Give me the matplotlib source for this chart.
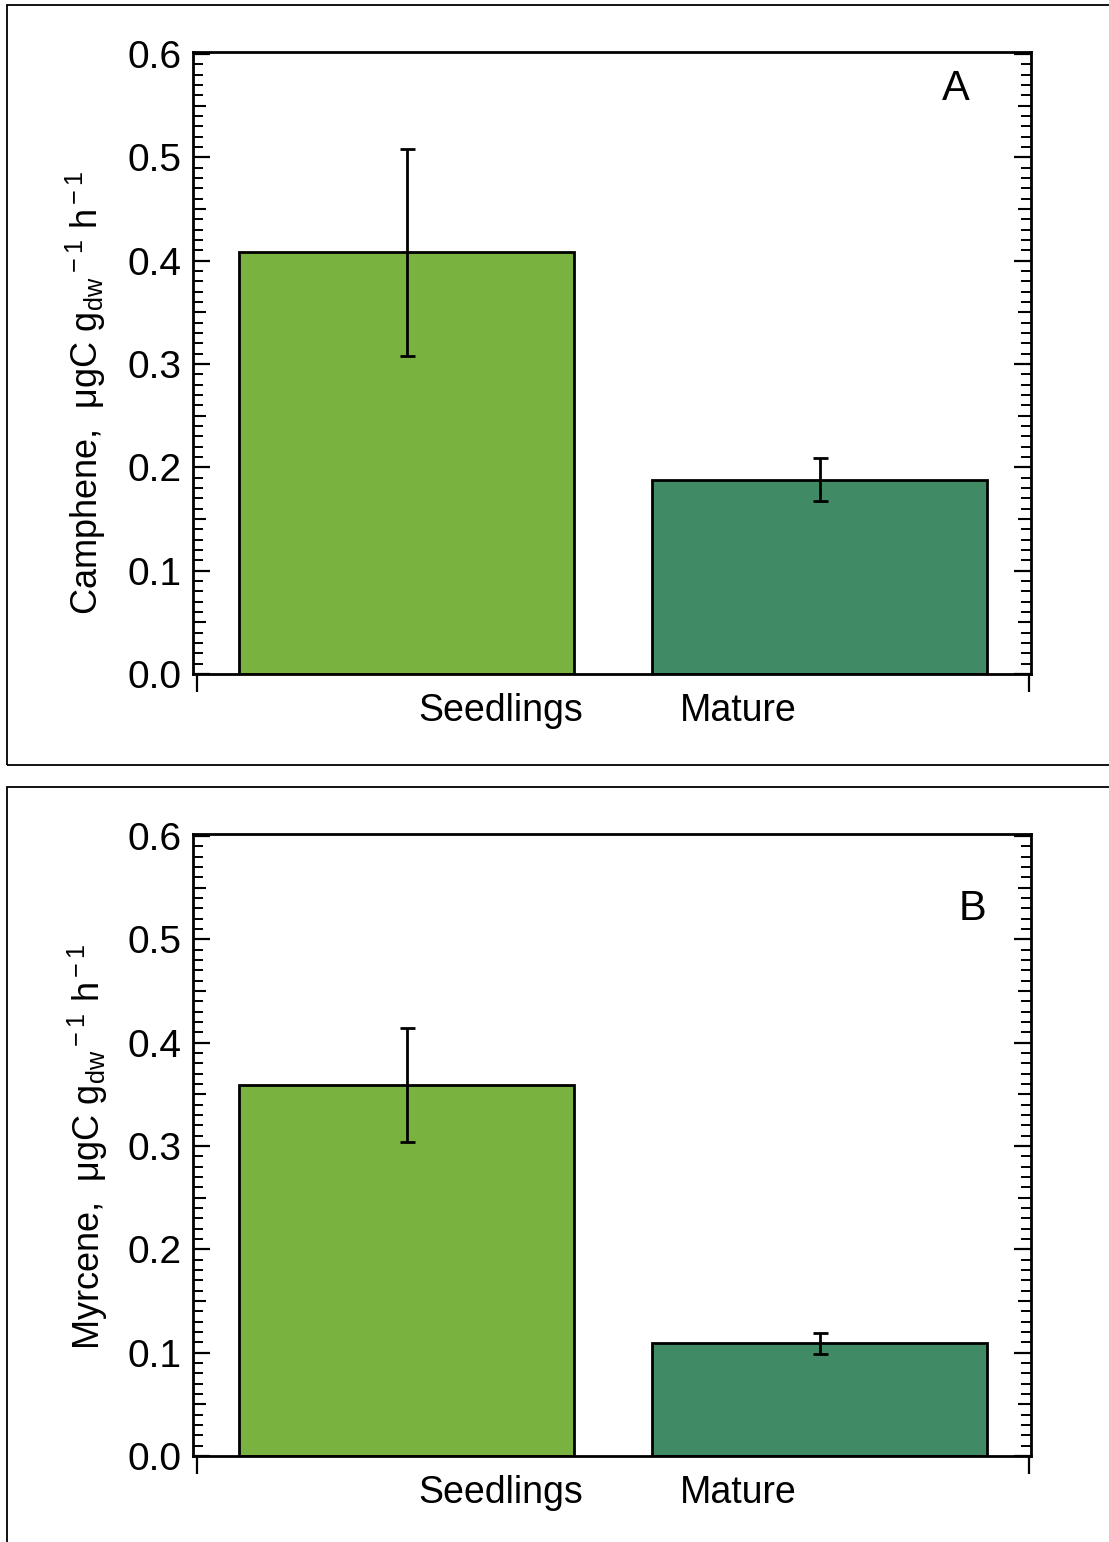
import numpy as np
import matplotlib.pyplot as plt
from matplotlib.patches import Rectangle
from matplotlib.ticker import MultipleLocator, NullFormatter

plt.rcParams['font.family'] = ['Liberation Sans', 'DejaVu Sans']
plt.rcParams['mathtext.fontset'] = 'custom'
plt.rcParams['mathtext.rm'] = 'Liberation Sans'
plt.rcParams['mathtext.it'] = 'Liberation Sans:italic'

# ---------- data ---------- #

groups = ['Seedlings', 'Mature']
colors = ['#7AB240', '#408B65']

camphene = [0.408, 0.188]
camphene_err = [0.100, 0.021]

myrcene = [0.359, 0.109]
myrcene_err = [0.055, 0.010]

panels = ['A', 'B']
compounds = ['Camphene', 'Myrcene']

# ---------- layout (figure fractions / axes fractions) ---------- #

W, H = 1109, 1542
ax_rects = [[193/W, 1-674/H, 838/W, 622/H],
            [193/W, 1-1456/H, 838/W, 622/H]]
letter_pos = [(0.910, 0.940), (0.930, 0.879)]
ylabel_pos = [(-0.101, 0.452), (-0.099, 0.497)]
label_x = [0.229, 0.804]   # category labels sit off-centre, as in the original
end_ticks = [-0.507, 1.507]

fig = plt.figure(figsize=(W/100, H/100), dpi=100)

# outer frames around each panel
fig.patches.append(Rectangle((7/W, 1-765/H), 1.2, 760/H, transform=fig.transFigure,
                             fill=False, lw=1.3, ec='black'))
fig.patches.append(Rectangle((7/W, -0.2), 1.2, 0.2+(1-787/H), transform=fig.transFigure,
                             fill=False, lw=1.3, ec='black'))

data = [(camphene, camphene_err), (myrcene, myrcene_err)]

for i in range(2):
    vals, errs = data[i]
    ax = fig.add_axes(ax_rects[i])
    x = np.arange(len(groups))
    ax.bar(x, vals, width=0.81, color=colors, edgecolor='black', linewidth=2)
    ax.errorbar(x, vals, yerr=errs, fmt='none', ecolor='black', elinewidth=2,
                capsize=5.4, capthick=2)

    ax.set_xlim(-0.517, 1.512)
    ax.set_ylim(0, 0.602)

    for s in ax.spines.values():
        s.set_linewidth(2)

    # y ticks: major 0.1, minor 0.01, medium at 0.05 through secondary axes
    ax.yaxis.set_major_locator(MultipleLocator(0.1))
    ax.yaxis.set_minor_locator(MultipleLocator(0.01))
    ax.yaxis.set_major_formatter(lambda v, p: '{:.1f}'.format(v))
    ax.tick_params(axis='y', which='major', direction='in', length=12, width=1.6,
                   right=True, labelsize=28, pad=8)
    ax.tick_params(axis='y', which='minor', direction='in', length=7, width=1.4, right=True)
    for side in ['left', 'right']:
        sec = ax.secondary_yaxis(side)
        sec.set_yticks(np.arange(0.05, 0.6, 0.1))
        sec.yaxis.set_major_formatter(NullFormatter())
        sec.tick_params(direction='in', length=9.5, width=1.5)
        sec.spines[side].set_visible(False)

    # x axis: labels without ticks, plus the two end ticks pointing down
    ax.set_xticks(label_x)
    ax.set_xticklabels(groups)
    ax.tick_params(axis='x', which='major', length=0, labelsize=27, pad=14)
    ax.set_xticks(end_ticks, minor=True)
    ax.tick_params(axis='x', which='minor', direction='out', length=13, width=1.6)

    ax.set_ylabel(compounds[i] + r',  μgC g$_{\rm dw}$$^{\rm -1}$ h$^{\rm -1}$', fontsize=26)
    ax.yaxis.set_label_coords(*ylabel_pos[i])

    ax.text(letter_pos[i][0], letter_pos[i][1], panels[i], transform=ax.transAxes,
            fontsize=30, ha='center', va='center')

fig.savefig('out.png', dpi=100)
